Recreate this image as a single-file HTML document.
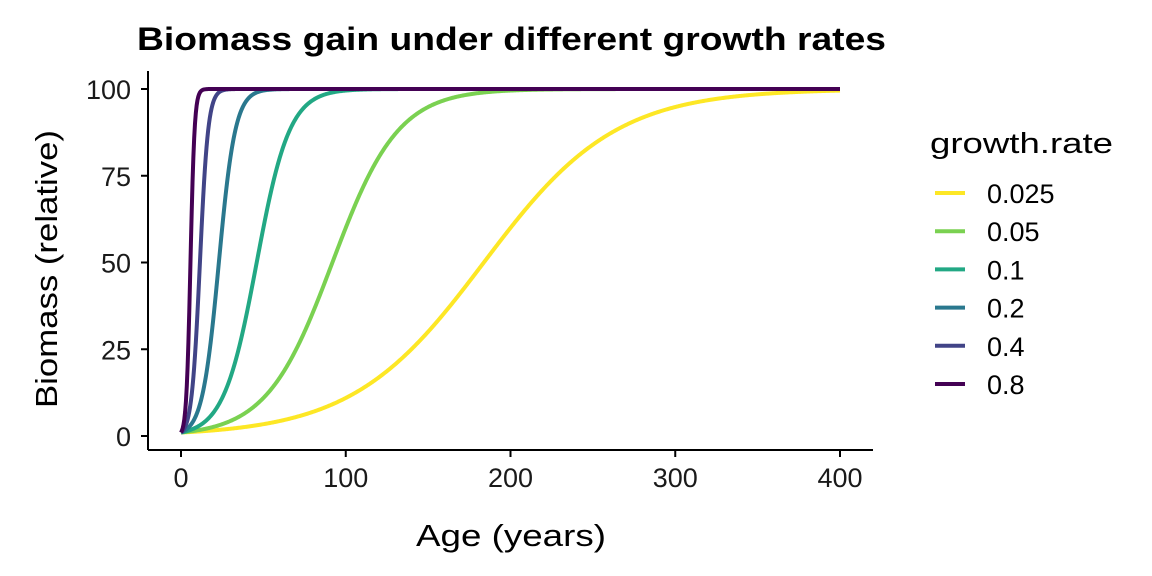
<!DOCTYPE html>
<html><head><meta charset="utf-8"><style>
html,body{margin:0;padding:0;background:#fff;}
svg{display:block;font-family:"Liberation Sans",Arial,sans-serif;}
</style></head><body>
<svg id="chart" width="1152" height="576" viewBox="0 0 1152 576">
<text x="137" y="50" font-size="32" font-weight="bold" fill="#000" textLength="749" lengthAdjust="spacingAndGlyphs">Biomass gain under different growth rates</text>
<g id="plot"></g>
<line x1="148" y1="71" x2="148" y2="450" stroke="#000" stroke-width="2"/>
<line x1="148" y1="450" x2="873" y2="450" stroke="#000" stroke-width="2"/>
<g id="xticks"></g>
<g id="yticks"></g>
<text x="416" y="546" font-size="31" fill="#000" textLength="190" lengthAdjust="spacingAndGlyphs">Age (years)</text>
<text transform="translate(57,408) rotate(-90)" font-size="31" fill="#000" textLength="278" lengthAdjust="spacingAndGlyphs">Biomass (relative)</text>
<text x="930" y="153" font-size="29" fill="#000" textLength="183" lengthAdjust="spacingAndGlyphs">growth.rate</text>
<g id="legend"></g>
</svg>
<script>
const growthRates = [0.025, 0.05, 0.1, 0.2, 0.4, 0.8];
const rateLabels = ["0.025", "0.05", "0.1", "0.2", "0.4", "0.8"];
const colors = ["#FDE725", "#7AD151", "#22A884", "#2A788E", "#414487", "#440154"];
const initialBiomass = 1;
const capacity = 100;
const maxAge = 400;
const xTicks = [0, 100, 200, 300, 400];
const yTicks = [0, 25, 50, 75, 100];

const NS = "http://www.w3.org/2000/svg";
function xs(v){ return 181 + v * (840 - 181) / 400; }
function ys(v){ return 436 - v * (436 - 89) / 100; }

const plot = document.getElementById('plot');
const lg = document.getElementById('legend');
for (let i = 0; i < growthRates.length; i++) {
  const r = growthRates[i];
  let d = "";
  for (let t = 0; t <= maxAge; t += 0.5) {
    const b = capacity / (1 + (capacity / initialBiomass - 1) * Math.exp(-r * t));
    d += (t === 0 ? "M" : "L") + xs(t).toFixed(2) + "," + ys(b).toFixed(2);
  }
  const p = document.createElementNS(NS, 'path');
  p.setAttribute('d', d);
  p.setAttribute('fill', 'none');
  p.setAttribute('stroke', colors[i]);
  p.setAttribute('stroke-width', '4');
  
  
  plot.appendChild(p);

  const yy = 193 + i * 38.2;
  const l = document.createElementNS(NS, 'line');
  l.setAttribute('x1', 935); l.setAttribute('x2', 965);
  l.setAttribute('y1', yy); l.setAttribute('y2', yy);
  l.setAttribute('stroke', colors[i]); l.setAttribute('stroke-width', '4');
  
  
  lg.appendChild(l);
  const tx = document.createElementNS(NS, 'text');
  tx.setAttribute('x', 987); tx.setAttribute('y', yy + 10);
  tx.setAttribute('font-size', '27');
  tx.setAttribute('fill', '#000');
  tx.textContent = rateLabels[i];
  
  
  lg.appendChild(tx);
}

const xt = document.getElementById('xticks');
xTicks.forEach(v => {
  const l = document.createElementNS(NS, 'line');
  l.setAttribute('x1', xs(v)); l.setAttribute('x2', xs(v));
  l.setAttribute('y1', 450); l.setAttribute('y2', 457);
  l.setAttribute('stroke', '#000'); l.setAttribute('stroke-width', '2');
  
  
  xt.appendChild(l);
  const t = document.createElementNS(NS, 'text');
  t.setAttribute('x', xs(v)); t.setAttribute('y', 487);
  t.setAttribute('text-anchor', 'middle'); t.setAttribute('font-size', '27'); t.setAttribute('fill', '#1a1a1a');
  t.textContent = v;
  
  
  xt.appendChild(t);
});
const yt = document.getElementById('yticks');
yTicks.forEach(v => {
  const l = document.createElementNS(NS, 'line');
  l.setAttribute('x1', 141); l.setAttribute('x2', 148);
  l.setAttribute('y1', ys(v)); l.setAttribute('y2', ys(v));
  l.setAttribute('stroke', '#000'); l.setAttribute('stroke-width', '2');
  
  
  yt.appendChild(l);
  const t = document.createElementNS(NS, 'text');
  t.setAttribute('x', 131); t.setAttribute('y', ys(v) + 10);
  t.setAttribute('text-anchor', 'end'); t.setAttribute('font-size', '27'); t.setAttribute('fill', '#1a1a1a');
  t.textContent = v;
  
  
  yt.appendChild(t);
});
</script>
</body></html>
